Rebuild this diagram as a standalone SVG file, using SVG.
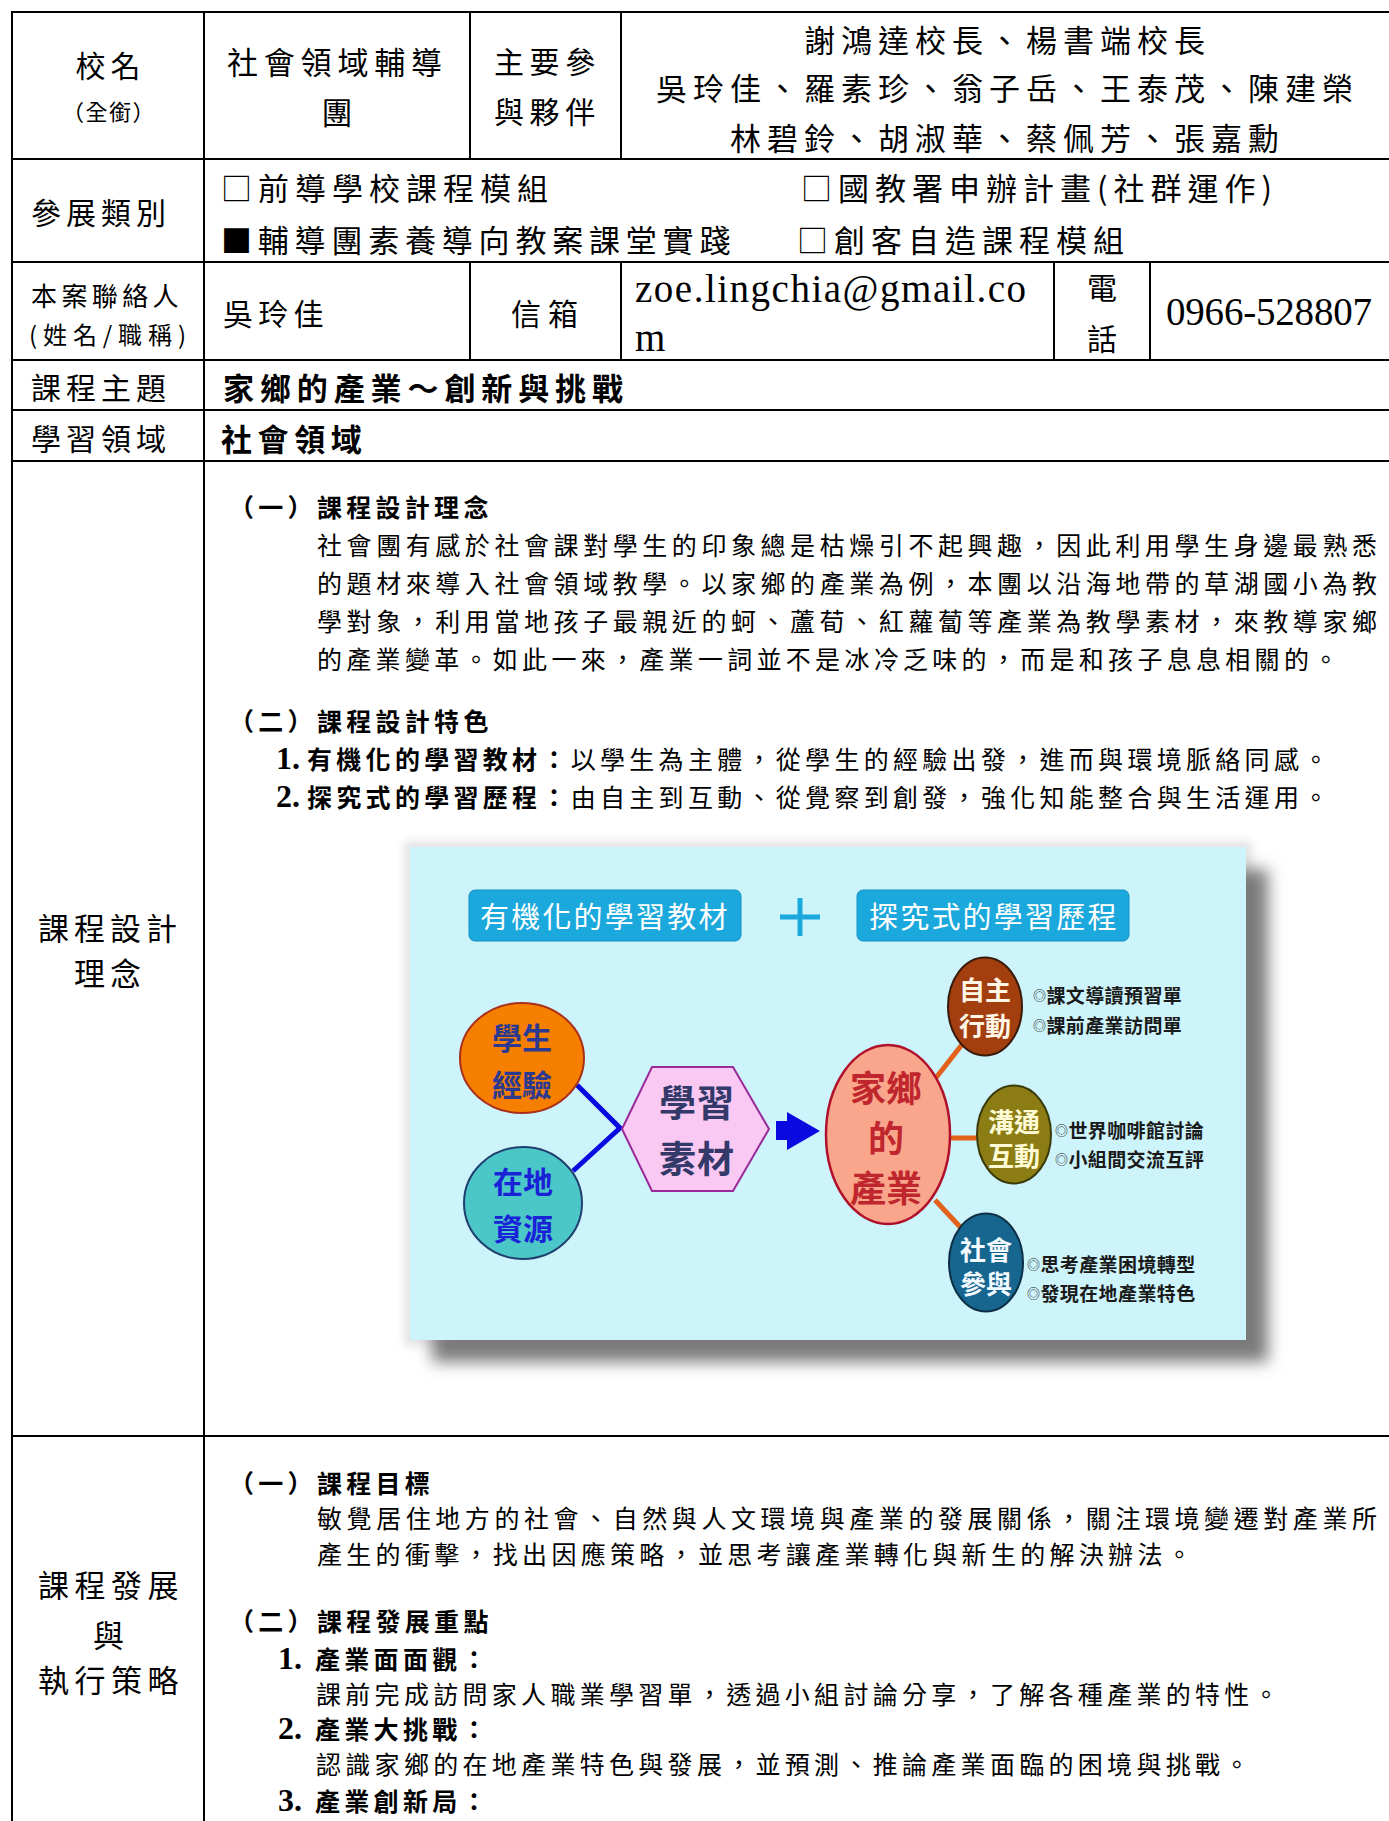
<svg xmlns="http://www.w3.org/2000/svg" width="1389" height="1821" viewBox="0 0 1389 1821">
<defs>
<style>
.cj{font-family:"Noto Sans CJK TC","Noto Sans CJK SC",sans-serif;dominant-baseline:central;fill:#000}
.hd{font-size:30px;letter-spacing:5px}
.nm{font-size:31px;letter-spacing:6px}
.bd{font-size:25px;letter-spacing:4.3px}
.jb{letter-spacing:4.57px}
.b{font-weight:bold}
.ser{font-family:"Liberation Serif",serif;dominant-baseline:central;fill:#000}
.grid line{stroke:#000;stroke-width:2}
.btn{fill:#1ba8dc;stroke:#1590c2;stroke-width:1}
.btxt{font-size:29px;letter-spacing:2.2px;fill:#fff}
.ntx{font-weight:bold;text-anchor:middle}
.lst{font-size:19px;font-weight:bold;fill:#1a1a1a;letter-spacing:0.4px}
.dot{font-size:13px;font-weight:normal}
.con-o{stroke:#e2621b;stroke-width:5;fill:none}
.con-b{stroke:#0a0ae0;stroke-width:5;fill:none}
</style>
<filter id="sh" x="-10%" y="-10%" width="130%" height="130%"><feGaussianBlur stdDeviation="8"/></filter>
<filter id="gl" x="-10%" y="-10%" width="120%" height="120%"><feGaussianBlur stdDeviation="4"/></filter>
</defs>
<rect width="1389" height="1821" fill="#fff"/>

<g id="table-grid" class="grid">
<line x1="11" y1="12" x2="1389" y2="12"/>
<line x1="11" y1="159" x2="1389" y2="159"/>
<line x1="11" y1="262" x2="1389" y2="262"/>
<line x1="11" y1="360" x2="1389" y2="360"/>
<line x1="11" y1="410" x2="1389" y2="410"/>
<line x1="11" y1="461" x2="1389" y2="461"/>
<line x1="11" y1="1436" x2="1389" y2="1436"/>
<line x1="12" y1="11" x2="12" y2="1821"/>
<line x1="204" y1="11" x2="204" y2="1821"/>
<line x1="470" y1="12" x2="470" y2="159"/>
<line x1="621" y1="12" x2="621" y2="159"/>
<line x1="470" y1="262" x2="470" y2="360"/>
<line x1="621" y1="262" x2="621" y2="360"/>
<line x1="1054" y1="262" x2="1054" y2="360"/>
<line x1="1150" y1="262" x2="1150" y2="360"/>
</g>

<g id="cell-school">
<text class="cj hd" x="75.5" y="64">校名</text>
<text class="cj" x="62" y="110" style="font-size:22px;letter-spacing:1.5px">（全銜）</text>
</g>
<g id="cell-team">
<text class="cj hd" x="227" y="60" style="font-size:31px;letter-spacing:5.8px">社會領域輔導</text>
<text class="cj hd" x="321.5" y="110" style="font-size:31px">團</text>
</g>
<g id="cell-partner-label">
<text class="cj hd" x="494" y="60" style="letter-spacing:5.6px">主要參</text>
<text class="cj hd" x="494" y="110" style="letter-spacing:5.6px">與夥伴</text>
</g>
<g id="cell-partners">
<text class="cj nm" x="804" y="38">謝鴻達校長、楊書端校長</text>
<text class="cj nm" x="656" y="86">吳玲佳、羅素珍、翁子岳、王泰茂、陳建榮</text>
<text class="cj nm" x="730" y="136">林碧鈴、胡淑華、蔡佩芳、張嘉勳</text>
</g>

<g id="cell-category">
<text class="cj hd" x="31" y="211">參展類別</text>
<text class="cj nm" x="221" y="186">□前導學校課程模組</text>
<text class="cj nm" x="801" y="186">□國教署申辦計畫(社群運作)</text>
<text class="cj nm" x="221" y="238" style="letter-spacing:5.8px">■輔導團素養導向教案課堂實踐</text>
<text class="cj nm" x="797" y="238">□創客自造課程模組</text>
</g>

<g id="cell-contact">
<text class="cj" x="31" y="294" style="font-size:26px;letter-spacing:4.4px">本案聯絡人</text>
<text class="cj" x="29" y="333" style="font-size:24px" textLength="157" lengthAdjust="spacing">(姓名/職稱)</text>
<text class="cj hd" x="223" y="312" style="letter-spacing:5.2px">吳玲佳</text>
<text class="cj hd" x="511" y="312" style="letter-spacing:7px">信箱</text>
<text class="ser" x="635" y="288" style="font-size:39px" textLength="391" lengthAdjust="spacing">zoe.lingchia@gmail.co</text>
<text class="ser" x="635" y="337" style="font-size:39px">m</text>
<text class="cj hd" x="1087" y="286">電</text>
<text class="cj hd" x="1087" y="337">話</text>
<text class="ser" x="1166" y="311" style="font-size:39px" textLength="206" lengthAdjust="spacing">0966-528807</text>
</g>

<g id="cell-theme">
<text class="cj hd" x="31" y="386">課程主題</text>
<text class="cj b" x="223" y="386" style="font-size:31px;letter-spacing:5.9px">家鄉的產業～創新與挑戰</text>
</g>
<g id="cell-domain">
<text class="cj hd" x="31" y="437">學習領域</text>
<text class="cj b" x="221" y="437" style="font-size:31px;letter-spacing:5.6px">社會領域</text>
</g>

<g id="cell-design-label">
<text class="cj hd" x="38" y="926" style="font-size:31px">課程設計</text>
<text class="cj hd" x="74" y="971" style="font-size:31px">理念</text>
</g>

<g id="cell-design-text">
<text class="cj bd b" x="229" y="506">（一）課程設計理念</text>
<text class="cj bd jb" x="317" y="544">社會團有感於社會課對學生的印象總是枯燥引不起興趣，因此利用學生身邊最熟悉</text>
<text class="cj bd jb" x="317" y="582">的題材來導入社會領域教學。以家鄉的產業為例，本團以沿海地帶的草湖國小為教</text>
<text class="cj bd jb" x="317" y="620">學對象，利用當地孩子最親近的蚵、蘆荀、紅蘿蔔等產業為教學素材，來教導家鄉</text>
<text class="cj bd" x="317" y="658">的產業變革。如此一來，產業一詞並不是冰冷乏味的，而是和孩子息息相關的。</text>
<text class="cj bd b" x="229" y="720">（二）課程設計特色</text>
<text class="ser b" x="276" y="758" style="font-size:32px">1.</text>
<text class="cj bd" x="307" y="758"><tspan class="b">有機化的學習教材：</tspan>以學生為主體，從學生的經驗出發，進而與環境脈絡同感。</text>
<text class="ser b" x="276" y="796" style="font-size:32px">2.</text>
<text class="cj bd" x="307" y="796"><tspan class="b">探究式的學習歷程：</tspan>由自主到互動、從覺察到創發，強化知能整合與生活運用。</text>
</g>

<g id="diagram">
<rect x="404" y="841" width="848" height="505" fill="#e4e4e4" filter="url(#gl)"/>
<rect x="432" y="869" width="836" height="493" fill="#7a7a7a" filter="url(#sh)"/>
<rect x="410" y="847" width="836" height="493" fill="#cdf4fb"/>

<g id="btn-organic">
<rect class="btn" x="469" y="890" width="272" height="51" rx="6"/>
<text class="cj btxt" x="480" y="915">有機化的學習教材</text>
</g>
<g id="plus-sign">
<line x1="780" y1="917" x2="820" y2="917" stroke="#1ba8dc" stroke-width="5"/>
<line x1="800" y1="898" x2="800" y2="936" stroke="#1ba8dc" stroke-width="5"/>
</g>
<g id="btn-inquiry">
<rect class="btn" x="857" y="890" width="272" height="51" rx="6"/>
<text class="cj btxt" x="869" y="915">探究式的學習歷程</text>
</g>

<g id="connectors">
<polyline class="con-b" points="577,1085 620,1128 573,1171"/>
<polygon points="776,1121 787,1121 787,1112 820,1131 787,1150 787,1140 776,1140" fill="#0a0ae0"/>
<line class="con-o" x1="935" y1="1079" x2="964" y2="1042"/>
<line class="con-o" x1="950" y1="1138" x2="980" y2="1138"/>
<line class="con-o" x1="935" y1="1200" x2="962" y2="1229"/>
</g>

<g id="node-student">
<ellipse cx="522" cy="1058" rx="62" ry="55" fill="#f77f00" stroke="#a8301a" stroke-width="2"/>
<text class="cj ntx" x="522" y="1036" style="font-size:30px;fill:#2b3990">學生</text>
<text class="cj ntx" x="522" y="1083" style="font-size:30px;fill:#2b3990">經驗</text>
</g>
<g id="node-local">
<ellipse cx="523" cy="1203" rx="59" ry="56" fill="#4cc7c8" stroke="#1f3f6f" stroke-width="2"/>
<text class="cj ntx" x="523" y="1180" style="font-size:30px;fill:#1a22d8">在地</text>
<text class="cj ntx" x="523" y="1227" style="font-size:30px;fill:#1a22d8">資源</text>
</g>
<g id="node-material">
<polygon points="622,1129 652,1067 733,1067 769,1129 733,1191 652,1191" fill="#f9c9f4" stroke="#9a2a9a" stroke-width="2"/>
<text class="cj ntx" x="697" y="1101" style="font-size:37px;letter-spacing:1px;fill:#333a6a">學習</text>
<text class="cj ntx" x="697" y="1157" style="font-size:37px;letter-spacing:1px;fill:#333a6a">素材</text>
</g>
<g id="node-hometown">
<ellipse cx="888" cy="1134.5" rx="62" ry="89.5" fill="#f9a68c" stroke="#b0102a" stroke-width="2.5"/>
<text class="cj ntx" x="886" y="1086" style="font-size:36px;fill:#c0262d">家鄉</text>
<text class="cj ntx" x="886" y="1136" style="font-size:36px;fill:#c0262d">的</text>
<text class="cj ntx" x="886" y="1186" style="font-size:36px;fill:#c0262d">產業</text>
</g>
<g id="node-auto">
<ellipse cx="985" cy="1006.5" rx="37" ry="49" fill="#a33f0f" stroke="#3a1a0a" stroke-width="2"/>
<text class="cj ntx" x="985" y="988" style="font-size:26px;fill:#fff6e6">自主</text>
<text class="cj ntx" x="985" y="1024" style="font-size:26px;fill:#fff6e6">行動</text>
</g>
<g id="node-comm">
<ellipse cx="1014" cy="1134.5" rx="37" ry="49" fill="#8b7d14" stroke="#3a3a0a" stroke-width="2"/>
<text class="cj ntx" x="1014" y="1120" style="font-size:26px;fill:#fffbd6">溝通</text>
<text class="cj ntx" x="1014" y="1154" style="font-size:26px;fill:#fffbd6">互動</text>
</g>
<g id="node-social">
<ellipse cx="986" cy="1262.5" rx="37" ry="49" fill="#17668f" stroke="#0d2f45" stroke-width="2"/>
<text class="cj ntx" x="986" y="1248" style="font-size:26px;fill:#f2f9ff">社會</text>
<text class="cj ntx" x="986" y="1282" style="font-size:26px;fill:#f2f9ff">參與</text>
</g>

<g id="list-auto">
<text class="cj lst" x="1033" y="994"><tspan class="dot">◎</tspan>課文導讀預習單</text>
<text class="cj lst" x="1033" y="1024"><tspan class="dot">◎</tspan>課前產業訪問單</text>
</g>
<g id="list-comm">
<text class="cj lst" x="1055" y="1129"><tspan class="dot">◎</tspan>世界咖啡館討論</text>
<text class="cj lst" x="1055" y="1158"><tspan class="dot">◎</tspan>小組間交流互評</text>
</g>
<g id="list-social">
<text class="cj lst" x="1027" y="1263"><tspan class="dot">◎</tspan>思考產業困境轉型</text>
<text class="cj lst" x="1027" y="1292"><tspan class="dot">◎</tspan>發現在地產業特色</text>
</g>
</g>

<g id="cell-strategy-label">
<text class="cj hd" x="38" y="1583" style="font-size:31px;letter-spacing:5.5px">課程發展</text>
<text class="cj hd" x="93" y="1633" style="font-size:31px">與</text>
<text class="cj hd" x="38" y="1678" style="font-size:31px;letter-spacing:5.5px">執行策略</text>
</g>

<g id="cell-strategy-text">
<text class="cj bd b" x="229" y="1482">（一）課程目標</text>
<text class="cj bd jb" x="317" y="1517">敏覺居住地方的社會、自然與人文環境與產業的發展關係，關注環境變遷對產業所</text>
<text class="cj bd" x="317" y="1553">產生的衝擊，找出因應策略，並思考讓產業轉化與新生的解決辦法。</text>
<text class="cj bd b" x="229" y="1620">（二）課程發展重點</text>
<text class="ser b" x="278" y="1658" style="font-size:32px">1.</text>
<text class="cj bd b" x="315" y="1658">產業面面觀：</text>
<text class="cj bd" x="316" y="1693">課前完成訪問家人職業學習單，透過小組討論分享，了解各種產業的特性。</text>
<text class="ser b" x="278" y="1728" style="font-size:32px">2.</text>
<text class="cj bd b" x="315" y="1728">產業大挑戰：</text>
<text class="cj bd" x="316" y="1763">認識家鄉的在地產業特色與發展，並預測、推論產業面臨的困境與挑戰。</text>
<text class="ser b" x="278" y="1800" style="font-size:32px">3.</text>
<text class="cj bd b" x="315" y="1800">產業創新局：</text>
</g>
</svg>
